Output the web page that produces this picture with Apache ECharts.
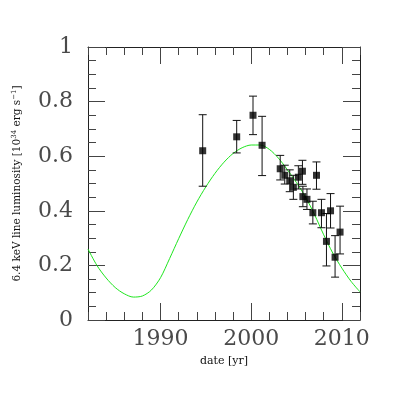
<!DOCTYPE html>
<html>
<head>
<meta charset="utf-8">
<script src="https://cdn.jsdelivr.net/npm/echarts@6/dist/echarts.min.js"></script>
<style>
  html, body { margin: 0; padding: 0; background: #fff; }
  #chart { width: 407px; height: 407px; }
</style>
</head>
<body>
<div id="chart"></div>
<script>
// observations: date, luminosity, lower / upper error
const obsYear = [1994.65, 1998.4, 2000.2, 2001.2, 2003.2, 2003.7, 2004.25, 2004.65, 2005.2, 2005.65,
  2005.7, 2006.15, 2007.2, 2006.8, 2007.75, 2008.75, 2008.3, 2009.25, 2009.8]
const obsLum = [0.62, 0.671, 0.75, 0.64, 0.554, 0.53, 0.51, 0.486, 0.523, 0.545,
  0.452, 0.442, 0.53, 0.393, 0.393, 0.40, 0.288, 0.23, 0.322]
const obsLow = [0.49, 0.612, 0.679, 0.529, 0.513, 0.498, 0.47, 0.442, 0.48, 0.497,
  0.415, 0.405, 0.479, 0.352, 0.338, 0.337, 0.198, 0.157, 0.242]
const obsHigh = [0.752, 0.731, 0.82, 0.746, 0.603, 0.567, 0.55, 0.53, 0.565, 0.585,
  0.49, 0.48, 0.579, 0.435, 0.442, 0.463, 0.39, 0.309, 0.417]

// model curve (green)
const modelYear = [1982, 1983, 1984, 1985, 1986, 1987, 1988, 1989, 1990, 1991, 1992, 1993, 1994, 1995, 1996,
  1997, 1998, 1999, 2000, 2001, 2002, 2003, 2004, 2005, 2006, 2007, 2008, 2009, 2010, 2011, 2012]
const modelLum = [0.26, 0.199, 0.154, 0.119, 0.096, 0.084, 0.088, 0.11, 0.155, 0.225, 0.298, 0.368, 0.432, 0.488, 0.537,
  0.578, 0.61, 0.631, 0.641, 0.641, 0.625, 0.593, 0.55, 0.503, 0.45, 0.385, 0.312, 0.245, 0.19, 0.142, 0.103]

const xMajor = [1990, 2000, 2010]
const yTicks = [0, 0.2, 0.4, 0.6, 0.8, 1]

const serif = 'DejaVu Serif'
const lineCol = '#222'
const labelCol = '#4a4a4a'

const myChart = echarts.init(document.getElementById('chart'))

function xAxisDef(pos, major, withLabels) {
  const ax = {
    type: 'value',
    position: pos,
    min: 1982,
    max: 2012,
    splitLine: { show: false },
    axisLine: { show: major, onZero: false, lineStyle: { color: lineCol, width: 1 } },
    axisTick: { inside: true, length: major ? 17 : 8, lineStyle: { color: '#444' } },
    axisLabel: { show: false }
  }
  if (major) {
    ax.axisTick.customValues = xMajor
    ax.axisLabel = {
      show: withLabels,
      customValues: xMajor,
      formatter: v => String(v),
      fontFamily: serif,
      fontSize: 22,
      color: labelCol,
      margin: 8
    }
  } else {
    ax.interval = 2
  }
  if (withLabels) {
    ax.name = 'date [yr]'
    ax.nameLocation = 'middle'
    ax.nameGap = 36
    ax.nameTextStyle = { fontFamily: serif, fontSize: 11, color: '#111' }
  }
  return ax
}

function yAxisDef(pos, withLabels) {
  const ax = {
    type: 'value',
    position: pos,
    min: 0,
    max: 1,
    interval: 0.2,
    splitLine: { show: false },
    axisLine: { show: true, lineStyle: { color: lineCol, width: 1 } },
    axisTick: { inside: true, length: 17, lineStyle: { color: '#444' } },
    minorTick: { show: true, splitNumber: 4, length: 8, lineStyle: { color: '#444' } },
    axisLabel: {
      show: withLabels,
      fontFamily: serif,
      fontSize: 22,
      color: labelCol,
      margin: 15,
      formatter: v => yTicks.indexOf(Math.round(v * 10) / 10) >= 0 ? String(Math.round(v * 10) / 10) : ''
    }
  }
  if (withLabels) {
    ax.name = '{t|6.4 keV line luminosity [10}{s|34}{t| erg s}{s|−1}{t|]}'
    ax.nameLocation = 'middle'
    ax.nameGap = 64
    ax.nameTextStyle = {
      rich: {
        t: { fontFamily: serif, fontSize: 10.5, color: '#111' },
        s: { fontFamily: serif, fontSize: 7, color: '#111', verticalAlign: 'top', padding: [0, 0, 6, 0] }
      }
    }
  }
  return ax
}

const option = {
  backgroundColor: '#fff',
  animation: false,
  grid: { left: 88, right: 47, top: 47, bottom: 87, containLabel: false },
  xAxis: [
    xAxisDef('bottom', true, true),
    xAxisDef('bottom', false, false),
    xAxisDef('top', true, false),
    xAxisDef('top', false, false)
  ],
  yAxis: [
    yAxisDef('left', true),
    yAxisDef('right', false)
  ],
  series: [
    {
      name: 'model',
      type: 'line',
      xAxisIndex: 0,
      yAxisIndex: 0,
      data: modelYear.map((x, i) => [x, modelLum[i]]),
      smooth: 0.3,
      showSymbol: false,
      lineStyle: { color: '#1ee61e', width: 1 },
      z: 2
    },
    {
      name: 'errors',
      type: 'custom',
      xAxisIndex: 0,
      yAxisIndex: 0,
      data: obsYear.map((x, i) => [x, obsLow[i], obsHigh[i]]),
      renderItem: function(params, api) {
        const lo = api.coord([api.value(0), api.value(1)])
        const hi = api.coord([api.value(0), api.value(2)])
        const hw = 4
        const st = { stroke: '#111', lineWidth: 1 }
        return {
          type: 'group',
          children: [
            { type: 'line', shape: { x1: lo[0], y1: lo[1], x2: hi[0], y2: hi[1] }, style: st },
            { type: 'line', shape: { x1: lo[0] - hw, y1: lo[1], x2: lo[0] + hw, y2: lo[1] }, style: st },
            { type: 'line', shape: { x1: hi[0] - hw, y1: hi[1], x2: hi[0] + hw, y2: hi[1] }, style: st }
          ]
        }
      },
      z: 3
    },
    {
      name: 'obs',
      type: 'scatter',
      xAxisIndex: 0,
      yAxisIndex: 0,
      data: obsYear.map((x, i) => [x, obsLum[i]]),
      symbol: 'rect',
      symbolSize: 7,
      itemStyle: { color: '#000' },
      z: 4
    }
  ]
}

myChart.setOption(option)
</script>
</body>
</html>
